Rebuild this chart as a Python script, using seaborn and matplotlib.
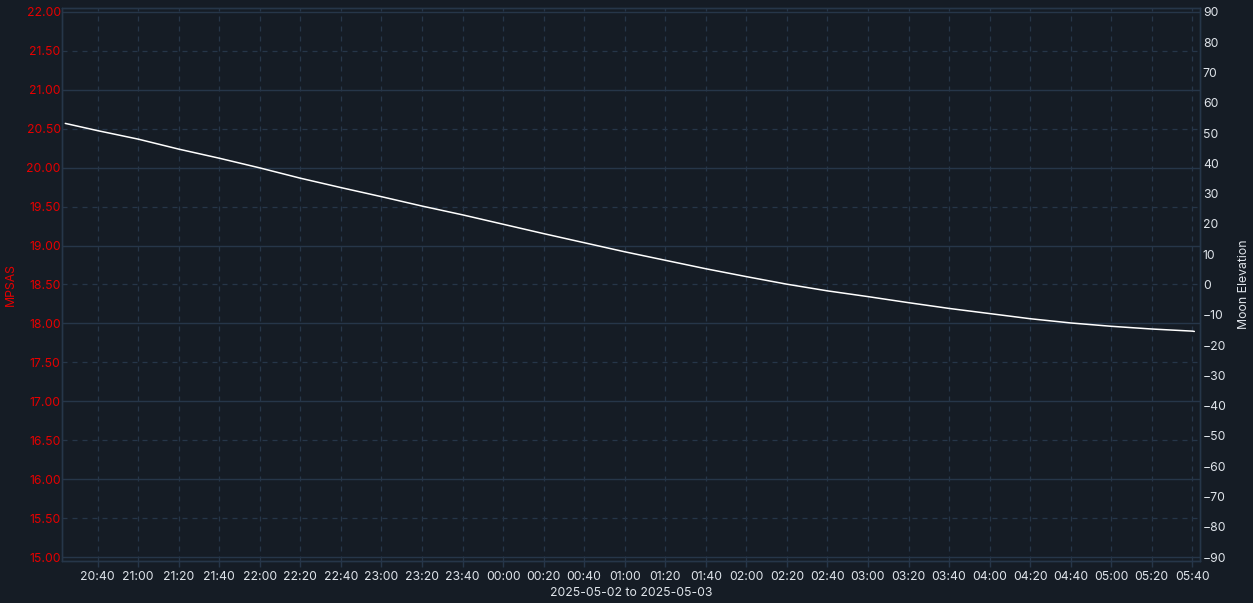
import matplotlib
matplotlib.use('Agg')
import matplotlib.pyplot as plt
import matplotlib.dates as mdates
from matplotlib.ticker import MultipleLocator, FormatStrFormatter
import pandas as pd
import seaborn as sns

BG = '#151c25'
GRID = '#263649'
RED = '#e60000'
TEXT = '#dfe4ea'

# moon elevation over the night, read at 20-minute marks
times = [
    '2025-05-02 20:24', '2025-05-02 20:40', '2025-05-02 21:00', '2025-05-02 21:20',
    '2025-05-02 21:40', '2025-05-02 22:00', '2025-05-02 22:20', '2025-05-02 22:40',
    '2025-05-02 23:00', '2025-05-02 23:20', '2025-05-02 23:40', '2025-05-03 00:00',
    '2025-05-03 00:20', '2025-05-03 00:40', '2025-05-03 01:00', '2025-05-03 01:20',
    '2025-05-03 01:40', '2025-05-03 02:00', '2025-05-03 02:20', '2025-05-03 02:40',
    '2025-05-03 03:00', '2025-05-03 03:20', '2025-05-03 03:40', '2025-05-03 04:00',
    '2025-05-03 04:20', '2025-05-03 04:40', '2025-05-03 05:00', '2025-05-03 05:20',
    '2025-05-03 05:40', '2025-05-03 05:41',
]
moon_elevation = [
    53.2, 50.8, 48.0, 44.7, 41.7, 38.5, 35.1, 32.0, 29.0, 25.9,
    23.0, 19.9, 16.8, 13.8, 10.8, 8.0, 5.2, 2.6, 0.1, -2.1,
    -4.0, -6.0, -7.9, -9.6, -11.3, -12.7, -13.8, -14.7, -15.4, -15.5,
]
x_range = ['2025-05-02 20:22:24', '2025-05-03 05:43:48']
mpsas_range = (14.95, 22.05)
elev_range = (-91.3, 91.3)

sns.set_theme(style='dark')
plt.rcParams['font.family'] = ['Inter', 'DejaVu Sans']

df = pd.DataFrame({'time': pd.to_datetime(times), 'elevation': moon_elevation})

fig = plt.figure(figsize=(12.53, 6.03), dpi=100, facecolor=BG)
ax = fig.add_axes([0.0495, 0.0697, 0.9082, 0.9170])
ax.set_facecolor(BG)
ax2 = ax.twinx()
ax2.patch.set_alpha(0)

sns.lineplot(data=df, x='time', y='elevation', ax=ax2, color='white', linewidth=1.1)

ax.set_xlim(pd.Timestamp(x_range[0]), pd.Timestamp(x_range[1]))
ax.set_ylim(*mpsas_range)
ax2.set_ylim(*elev_range)

# left axis: solid grid on whole numbers, dashed on halves
ax.yaxis.set_major_locator(MultipleLocator(1.0))
ax.yaxis.set_minor_locator(MultipleLocator(0.5))
ax.yaxis.set_major_formatter(FormatStrFormatter('%.2f'))
ax.yaxis.set_minor_formatter(FormatStrFormatter('%.2f'))
ax.tick_params(axis='y', which='both', length=0, pad=1, labelsize=8.8, labelcolor=RED)
ax.grid(axis='y', which='major', color=GRID, linestyle='-', linewidth=1.0)
ax.grid(axis='y', which='minor', color=GRID, linestyle=(0, (4, 4)), linewidth=0.9)

ax.xaxis.set_major_locator(mdates.MinuteLocator(byminute=[0, 20, 40]))
ax.xaxis.set_major_formatter(mdates.DateFormatter('%H:%M'))
ax.tick_params(axis='x', which='major', length=4, width=1, color=GRID, pad=3,
               labelsize=8.8, labelcolor=TEXT, bottom=True)
ax.grid(axis='x', which='major', color=GRID, linestyle=(0, (4, 4)), linewidth=0.9)

ax2.yaxis.set_major_locator(MultipleLocator(10))
ax2.tick_params(axis='y', length=0, pad=2, labelsize=8.8, labelcolor=TEXT)
ax2.grid(False)

ax.set_ylabel('MPSAS', color=RED, fontsize=8.8, labelpad=7)
ax2.set_ylabel('Moon Elevation', color=TEXT, fontsize=8.8, labelpad=8)
ax.set_xlabel('2025-05-02 to 2025-05-03', color=TEXT, fontsize=8.8, labelpad=3)
ax2.set_xlabel('')

for a in (ax, ax2):
    for sp in a.spines.values():
        sp.set_visible(True)
        sp.set_color(GRID)
        sp.set_linewidth(1.0)

fig.savefig('out.png', dpi=100, facecolor=BG)
